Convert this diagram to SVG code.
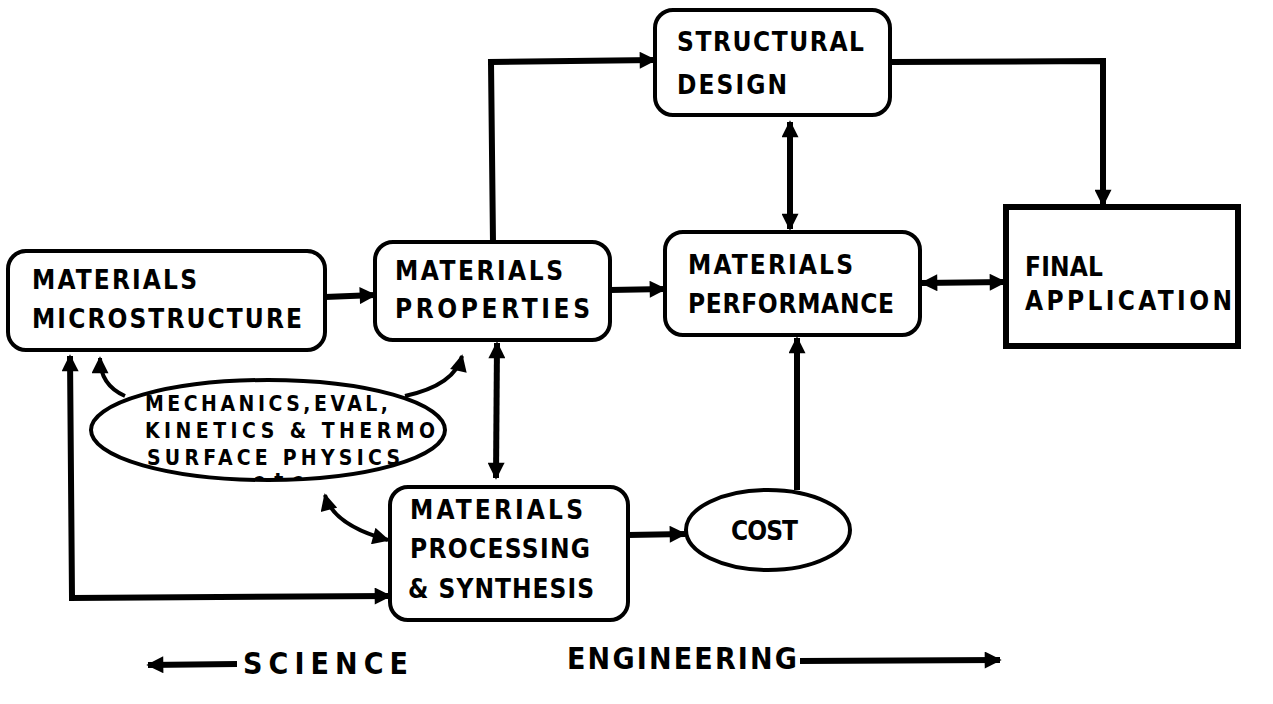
<svg xmlns="http://www.w3.org/2000/svg" width="1273" height="704" viewBox="0 0 1273 704">
  <style>
    .box { fill: #fff; stroke: #000; stroke-width: 4; }
    .sq { fill: #fff; stroke: #000; stroke-width: 6; }
    .lbl { font-family: "DejaVu Sans Condensed", "DejaVu Sans", sans-serif; font-stretch: condensed; font-weight: bold; font-size: 26px; fill: #000; }
    .sm { font-size: 21px; }
    .big { font-size: 30px; }
    .wire { fill: none; stroke: #000; stroke-width: 6; }
    .thin { fill: none; stroke: #000; stroke-width: 4; }
  </style>
  <defs>
    <marker id="head" viewBox="0 0 10 10" refX="9" refY="5" markerWidth="20" markerHeight="17" markerUnits="userSpaceOnUse" orient="auto-start-reverse">
      <path d="M0,0 L10,5 L0,10 Z" fill="#000"/>
    </marker>
    <clipPath id="ellClip">
      <rect x="90" y="360" width="380" height="118"/>
    </clipPath>
  </defs>

  <!-- connectors -->
  <g id="connectors">
    <line class="wire" x1="325" y1="297" x2="375" y2="295" marker-end="url(#head)"/>
    <line class="wire" x1="610" y1="290" x2="665" y2="289" marker-end="url(#head)"/>
    <line class="wire" x1="922" y1="283" x2="1005" y2="282" marker-start="url(#head)" marker-end="url(#head)"/>
    <polyline class="wire" points="493,243 491,62 655,60" marker-end="url(#head)"/>
    <polyline class="wire" points="890,62 1103,61 1103,205" marker-end="url(#head)"/>
    <line class="wire" x1="790" y1="122" x2="790" y2="229" marker-start="url(#head)" marker-end="url(#head)"/>
    <line class="wire" x1="497" y1="343" x2="496" y2="478" marker-start="url(#head)" marker-end="url(#head)"/>
    <line class="wire" x1="628" y1="535" x2="685" y2="534" marker-end="url(#head)"/>
    <line class="wire" x1="797" y1="490" x2="797" y2="338" marker-end="url(#head)"/>
    <polyline class="wire" points="70,356 72,598 390,596" marker-start="url(#head)" marker-end="url(#head)"/>
    <path class="thin" d="M125,396 Q100,385 100,358" marker-end="url(#head)"/>
    <path class="thin" d="M405,396 Q455,385 462,356" marker-end="url(#head)"/>
    <path class="thin" d="M325,495 Q333,525 388,540" marker-start="url(#head)" marker-end="url(#head)"/>
    <line class="wire" x1="237" y1="664" x2="148" y2="665" marker-end="url(#head)"/>
    <line class="wire" x1="800" y1="661" x2="1000" y2="660" marker-end="url(#head)"/>
  </g>

  <g id="microstructure">
    <rect class="box" x="8" y="251" width="317" height="99" rx="18"/>
    <text class="lbl" x="32" y="289" textLength="165" lengthAdjust="spacing">MATERIALS</text>
    <text class="lbl" x="32" y="328" textLength="270" lengthAdjust="spacing">MICROSTRUCTURE</text>
  </g>

  <g id="properties">
    <rect class="box" x="375" y="242" width="235" height="98" rx="18"/>
    <text class="lbl" x="395" y="280" textLength="168" lengthAdjust="spacing">MATERIALS</text>
    <text class="lbl" x="395" y="318" textLength="195" lengthAdjust="spacing">PROPERTIES</text>
  </g>

  <g id="performance">
    <rect class="box" x="665" y="232" width="255" height="103" rx="18"/>
    <text class="lbl" x="688" y="274" textLength="165" lengthAdjust="spacing">MATERIALS</text>
    <text class="lbl" x="688" y="313" textLength="206" lengthAdjust="spacing">PERFORMANCE</text>
  </g>

  <g id="structural-design">
    <rect class="box" x="655" y="10" width="235" height="105" rx="18"/>
    <text class="lbl" x="677" y="51" textLength="187" lengthAdjust="spacing">STRUCTURAL</text>
    <text class="lbl" x="677" y="94" textLength="110" lengthAdjust="spacing">DESIGN</text>
  </g>

  <g id="final-application">
    <rect class="sq" x="1006" y="207" width="232" height="139"/>
    <text class="lbl" x="1025" y="276" textLength="78" lengthAdjust="spacing">FINAL</text>
    <text class="lbl" x="1025" y="310" textLength="207" lengthAdjust="spacing">APPLICATION</text>
  </g>

  <g id="processing">
    <rect class="box" x="390" y="487" width="238" height="133" rx="18"/>
    <text class="lbl" x="410" y="519" textLength="173" lengthAdjust="spacing">MATERIALS</text>
    <text class="lbl" x="410" y="558" textLength="180" lengthAdjust="spacing">PROCESSING</text>
    <text class="lbl" x="408" y="598" textLength="186" lengthAdjust="spacing">&amp; SYNTHESIS</text>
  </g>

  <g id="cost">
    <ellipse class="box" cx="768" cy="530" rx="82" ry="40"/>
    <text class="lbl" x="731" y="540" textLength="67" lengthAdjust="spacing">COST</text>
  </g>

  <g id="disciplines">
    <ellipse class="box" cx="268" cy="430" rx="177" ry="50"/>
    <text class="lbl sm" x="145" y="411" textLength="243" lengthAdjust="spacing">MECHANICS,EVAL,</text>
    <text class="lbl sm" x="145" y="438" textLength="290" lengthAdjust="spacing">KINETICS &amp; THERMO</text>
    <text class="lbl sm" x="147" y="465" textLength="253" lengthAdjust="spacing">SURFACE PHYSICS</text>
    <text class="lbl sm" x="253" y="488" textLength="50" lengthAdjust="spacing" clip-path="url(#ellClip)">etc</text>
  </g>

  <g id="axis-labels">
    <text class="lbl big" x="243" y="674" textLength="165" lengthAdjust="spacing">SCIENCE</text>
    <text class="lbl big" x="567" y="669" textLength="230" lengthAdjust="spacing">ENGINEERING</text>
  </g>
</svg>
